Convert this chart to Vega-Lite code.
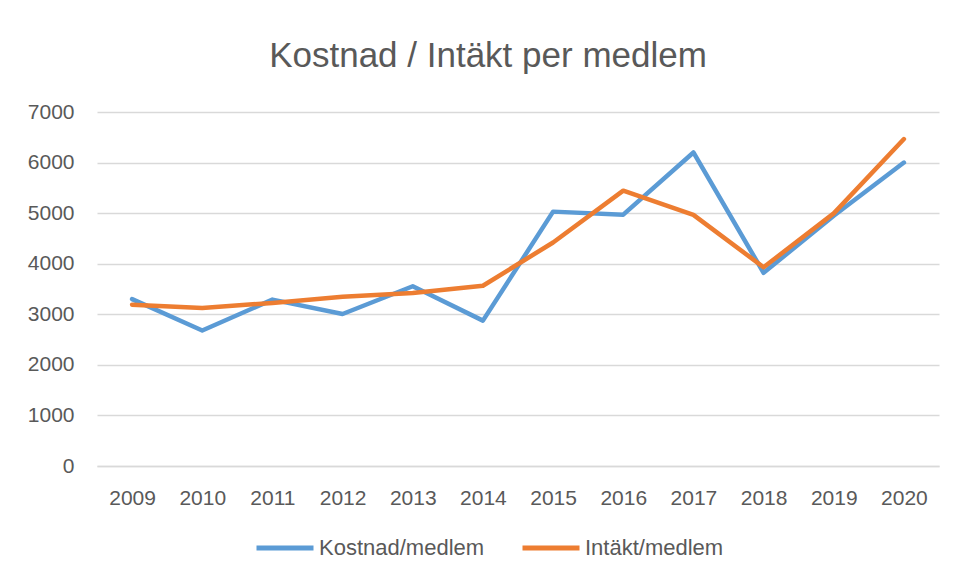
{
  "$schema": "https://vega.github.io/schema/vega-lite/v6.json",
  "autosize": "none",
  "width": 842,
  "height": 354,
  "padding": {"left": 97, "top": 112, "right": 18, "bottom": 113},
  "background": "white",
  "title": {
    "text": "Kostnad / Intäkt per medlem",
    "font": "Liberation Sans",
    "fontSize": 35,
    "fontWeight": "normal",
    "color": "#595959",
    "anchor": "middle",
    "frame": "group",
    "dx": -30,
    "offset": 27
  },
  "data": {
    "values": [
      {"year": "2009", "serie": "Kostnad/medlem", "value": 3300},
      {"year": "2010", "serie": "Kostnad/medlem", "value": 2680},
      {"year": "2011", "serie": "Kostnad/medlem", "value": 3290},
      {"year": "2012", "serie": "Kostnad/medlem", "value": 3005},
      {"year": "2013", "serie": "Kostnad/medlem", "value": 3555},
      {"year": "2014", "serie": "Kostnad/medlem", "value": 2875},
      {"year": "2015", "serie": "Kostnad/medlem", "value": 5030},
      {"year": "2016", "serie": "Kostnad/medlem", "value": 4970},
      {"year": "2017", "serie": "Kostnad/medlem", "value": 6200},
      {"year": "2018", "serie": "Kostnad/medlem", "value": 3820},
      {"year": "2019", "serie": "Kostnad/medlem", "value": 4950},
      {"year": "2020", "serie": "Kostnad/medlem", "value": 6000},
      {"year": "2009", "serie": "Intäkt/medlem", "value": 3190},
      {"year": "2010", "serie": "Intäkt/medlem", "value": 3125},
      {"year": "2011", "serie": "Intäkt/medlem", "value": 3225},
      {"year": "2012", "serie": "Intäkt/medlem", "value": 3345},
      {"year": "2013", "serie": "Intäkt/medlem", "value": 3420},
      {"year": "2014", "serie": "Intäkt/medlem", "value": 3565},
      {"year": "2015", "serie": "Intäkt/medlem", "value": 4420},
      {"year": "2016", "serie": "Intäkt/medlem", "value": 5445},
      {"year": "2017", "serie": "Intäkt/medlem", "value": 4965},
      {"year": "2018", "serie": "Intäkt/medlem", "value": 3930},
      {"year": "2019", "serie": "Intäkt/medlem", "value": 4995},
      {"year": "2020", "serie": "Intäkt/medlem", "value": 6465}
    ]
  },
  "mark": {"type": "line", "strokeWidth": 4.5, "strokeCap": "round", "strokeJoin": "round"},
  "encoding": {
    "x": {
      "field": "year",
      "type": "ordinal",
      "scale": {"type": "point", "padding": 0.5},
      "axis": {
        "title": null,
        "labelAngle": 0,
        "labelFont": "Liberation Sans",
        "labelFontSize": 21,
        "labelColor": "#595959",
        "labelPadding": 21,
        "ticks": false,
        "tickSize": 0,
        "domain": true,
        "domainColor": "#d9d9d9",
        "domainWidth": 1.3,
        "grid": false
      }
    },
    "y": {
      "field": "value",
      "type": "quantitative",
      "scale": {"domain": [0, 7000], "nice": false},
      "axis": {
        "title": null,
        "values": [0, 1000, 2000, 3000, 4000, 5000, 6000, 7000],
        "format": "d",
        "labelFont": "Liberation Sans",
        "labelFontSize": 21,
        "labelColor": "#595959",
        "labelPadding": 23,
        "ticks": false,
        "tickSize": 0,
        "domain": false,
        "grid": true,
        "gridColor": "#d9d9d9",
        "gridWidth": 1.3
      }
    },
    "color": {
      "field": "serie",
      "type": "nominal",
      "scale": {"domain": ["Kostnad/medlem", "Intäkt/medlem"], "range": ["#5b9bd5", "#ed7d31"]},
      "legend": {
        "title": null,
        "orient": "none",
        "direction": "horizontal",
        "legendX": 157,
        "legendY": 405,
        "symbolType": "stroke",
        "symbolSize": 3249,
        "symbolStrokeWidth": 5,
        "labelFont": "Liberation Sans",
        "labelFontSize": 22,
        "labelLimit": 400,
        "labelColor": "#595959",
        "labelOffset": 3,
        "columnPadding": 27
      }
    }
  },
  "config": {"view": {"stroke": null}}
}
